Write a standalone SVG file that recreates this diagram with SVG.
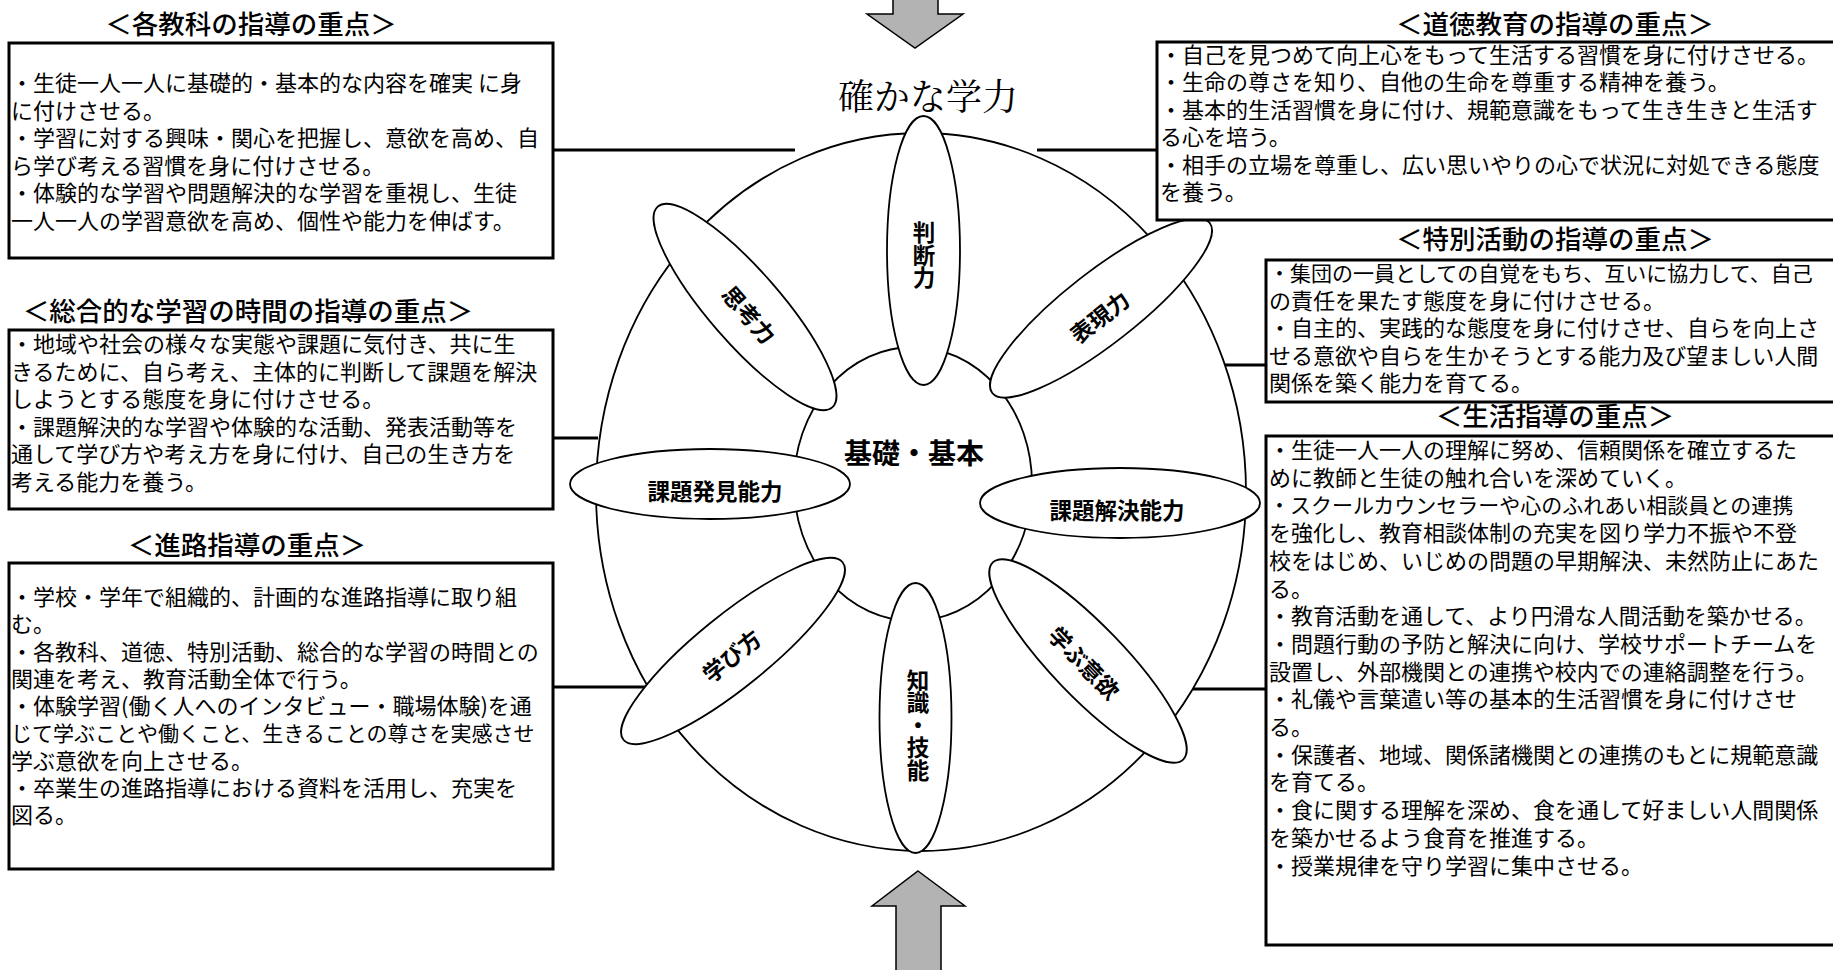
<svg xmlns="http://www.w3.org/2000/svg" width="1833" height="970" viewBox="0 0 1833 970">
<style>
text { font-family: "Noto Sans CJK JP", "Noto Sans CJK SC", sans-serif; fill: #000; }
.t { font-size: 22px; }
.ts { font-size: 21px; }
.ttl { font-size: 26.5px; font-weight: 500; text-anchor: middle; }
.box { fill: #fff; stroke: #000; stroke-width: 3; }
.con { stroke: #000; stroke-width: 3; fill: none; }
.ell { fill: #fff; stroke: #000; stroke-width: 1.8; }
.lbl { font-size: 22.5px; font-weight: bold; text-anchor: middle; dominant-baseline: central; }
.vl { font-size: 22.5px; font-weight: bold; text-anchor: middle; writing-mode: vertical-rl; }
.arr { fill: #b3b3b3; stroke: #000; stroke-width: 1.5; }
</style>
<rect width="1833" height="970" fill="#fff"/>

<g id="connectors">
  <line class="con" x1="553" y1="150" x2="795" y2="150"/>
  <line class="con" x1="553" y1="438" x2="598" y2="438"/>
  <line class="con" x1="553" y1="687" x2="645" y2="687"/>
  <line class="con" x1="1037" y1="150" x2="1158" y2="150"/>
  <line class="con" x1="1225" y1="365" x2="1266" y2="365"/>
  <line class="con" x1="1193" y1="689" x2="1266" y2="689"/>
</g>

<g id="arrow-top">
  <polygon class="arr" points="893,-5 938,-5 938,14 963,14 915,48 867,14 893,14"/>
</g>
<g id="arrow-bottom">
  <polygon class="arr" points="918,871 965,906 941,906 941,975 896,975 896,906 872,906"/>
</g>

<g id="title-main">
  <text x="928" y="110" style="font-family: 'Noto Serif CJK JP', 'Noto Sans CJK JP', serif; font-size: 36px; font-weight: 400;" text-anchor="middle">確かな学力</text>
</g>

<g id="outer-ring">
  <ellipse class="ell" cx="921" cy="492" rx="325" ry="359"/>
</g>
<g id="core">
  <ellipse class="ell" cx="913" cy="484" rx="119" ry="137"/>
  <text class="lbl" x="914" y="452" style="font-size:28px">基礎・基本</text>
</g>

<g id="petal-handan">
  <ellipse class="ell" cx="923.5" cy="250.5" rx="36.5" ry="134.5"/>
  <text class="vl" x="924" y="255">判断力</text>
</g>
<g id="petal-shiko">
  <ellipse class="ell" cx="745" cy="307" rx="36" ry="133" transform="rotate(-41 745 307)"/>
  <text class="lbl" x="750" y="314" transform="rotate(49 750 314)">思考力</text>
</g>
<g id="petal-hyogen">
  <ellipse class="ell" cx="1101" cy="308" rx="36" ry="138" transform="rotate(52 1101 308)"/>
  <text class="lbl" x="1099" y="316" transform="rotate(-38 1099 316)">表現力</text>
</g>
<g id="petal-hakken">
  <ellipse class="ell" cx="710" cy="484" rx="140" ry="35"/>
  <text class="lbl" x="715" y="490">課題発見能力</text>
</g>
<g id="petal-kaiketsu">
  <ellipse class="ell" cx="1120" cy="503" rx="140" ry="35"/>
  <text class="lbl" x="1117" y="509">課題解決能力</text>
</g>
<g id="petal-manabikata">
  <ellipse class="ell" cx="733" cy="651" rx="36" ry="141" transform="rotate(51 733 651)"/>
  <text class="lbl" x="731" y="655" transform="rotate(-39 731 655)">学び方</text>
</g>
<g id="petal-iyoku">
  <ellipse class="ell" cx="1088" cy="661" rx="36" ry="137" transform="rotate(-44 1088 661)"/>
  <text class="lbl" x="1085" y="662" transform="rotate(46 1085 662)">学ぶ意欲</text>
</g>
<g id="petal-chishiki">
  <ellipse class="ell" cx="915.5" cy="718" rx="36" ry="135"/>
  <text class="vl" x="918" y="725">知識・技能</text>
</g>

<g id="box-kakukyouka">
  <text class="ttl" x="251" y="34">＜各教科の指導の重点＞</text>
  <rect class="box" x="9" y="43" width="544" height="215"/>
  <text class="t" x="11" y="91">・生徒一人一人に基礎的・基本的な内容を確実 に身</text>
  <text class="t" x="11" y="118.5">に付けさせる。</text>
  <text class="t" x="11" y="146">・学習に対する興味・関心を把握し、意欲を高め、自</text>
  <text class="t" x="11" y="173.5">ら学び考える習慣を身に付けさせる。</text>
  <text class="t" x="11" y="201">・体験的な学習や問題解決的な学習を重視し、生徒</text>
  <text class="t" x="11" y="228.5">一人一人の学習意欲を高め、個性や能力を伸ばす。</text>
</g>

<g id="box-sougou">
  <text class="ttl" x="248" y="321">＜総合的な学習の時間の指導の重点＞</text>
  <rect class="box" x="9" y="330" width="544" height="179"/>
  <text class="t" x="11" y="352">・地域や社会の様々な実態や課題に気付き、共に生</text>
  <text class="t" x="11" y="379.5">きるために、自ら考え、主体的に判断して課題を解決</text>
  <text class="t" x="11" y="407">しようとする態度を身に付けさせる。</text>
  <text class="t" x="11" y="434.5">・課題解決的な学習や体験的な活動、発表活動等を</text>
  <text class="t" x="11" y="462">通して学び方や考え方を身に付け、自己の生き方を</text>
  <text class="t" x="11" y="489.5">考える能力を養う。</text>
</g>

<g id="box-shinro">
  <text class="ttl" x="247" y="555">＜進路指導の重点＞</text>
  <rect class="box" x="9" y="563" width="544" height="306"/>
  <text class="t" x="11" y="605">・学校・学年で組織的、計画的な進路指導に取り組</text>
  <text class="t" x="11" y="632.25">む。</text>
  <text class="t" x="11" y="659.5">・各教科、道徳、特別活動、総合的な学習の時間との</text>
  <text class="t" x="11" y="686.75">関連を考え、教育活動全体で行う。</text>
  <text class="t" x="11" y="714">・体験学習(働く人へのインタビュー・職場体験)を通</text>
  <text class="ts" x="11" y="741.25">じて学ぶことや働くこと、生きることの尊さを実感させ</text>
  <text class="t" x="11" y="768.5">学ぶ意欲を向上させる。</text>
  <text class="t" x="11" y="795.75">・卒業生の進路指導における資料を活用し、充実を</text>
  <text class="t" x="11" y="823">図る。</text>
</g>

<g id="box-doutoku">
  <text class="ttl" x="1555" y="34">＜道徳教育の指導の重点＞</text>
  <rect class="box" x="1157" y="42" width="690" height="178"/>
  <text class="t" x="1160" y="63">・自己を見つめて向上心をもって生活する習慣を身に付けさせる。</text>
  <text class="t" x="1160" y="90.4">・生命の尊さを知り、自他の生命を尊重する精神を養う。</text>
  <text class="t" x="1160" y="117.8">・基本的生活習慣を身に付け、規範意識をもって生き生きと生活す</text>
  <text class="t" x="1160" y="145.2">る心を培う。</text>
  <text class="t" x="1160" y="172.6">・相手の立場を尊重し、広い思いやりの心で状況に対処できる態度</text>
  <text class="t" x="1160" y="200">を養う。</text>
</g>

<g id="box-tokubetsu">
  <text class="ttl" x="1555" y="249">＜特別活動の指導の重点＞</text>
  <rect class="box" x="1266" y="260" width="580" height="142"/>
  <text class="ts" x="1269" y="281">・集団の一員としての自覚をもち、互いに協力して、自己</text>
  <text class="t" x="1269" y="308.5">の責任を果たす態度を身に付けさせる。</text>
  <text class="t" x="1269" y="336">・自主的、実践的な態度を身に付けさせ、自らを向上さ</text>
  <text class="t" x="1269" y="363.5">せる意欲や自らを生かそうとする能力及び望ましい人間</text>
  <text class="t" x="1269" y="391">関係を築く能力を育てる。</text>
</g>

<g id="box-seikatsu">
  <text class="ttl" x="1555" y="426">＜生活指導の重点＞</text>
  <rect class="box" x="1266" y="436" width="580" height="509"/>
  <text class="t" x="1269" y="458">・生徒一人一人の理解に努め、信頼関係を確立するた</text>
  <text class="t" x="1269" y="485.7">めに教師と生徒の触れ合いを深めていく。</text>
  <text class="ts" x="1269" y="513.4">・スクールカウンセラーや心のふれあい相談員との連携</text>
  <text class="t" x="1269" y="541.1">を強化し、教育相談体制の充実を図り学力不振や不登</text>
  <text class="t" x="1269" y="568.8">校をはじめ、いじめの問題の早期解決、未然防止にあた</text>
  <text class="t" x="1269" y="596.5">る。</text>
  <text class="t" x="1269" y="624.2">・教育活動を通して、より円滑な人間活動を築かせる。</text>
  <text class="t" x="1269" y="651.9">・問題行動の予防と解決に向け、学校サポートチームを</text>
  <text class="t" x="1269" y="679.6">設置し、外部機関との連携や校内での連絡調整を行う。</text>
  <text class="t" x="1269" y="707.3">・礼儀や言葉遣い等の基本的生活習慣を身に付けさせ</text>
  <text class="t" x="1269" y="735">る。</text>
  <text class="t" x="1269" y="762.7">・保護者、地域、関係諸機関との連携のもとに規範意識</text>
  <text class="t" x="1269" y="790.4">を育てる。</text>
  <text class="t" x="1269" y="818.1">・食に関する理解を深め、食を通して好ましい人間関係</text>
  <text class="t" x="1269" y="845.8">を築かせるよう食育を推進する。</text>
  <text class="t" x="1269" y="873.5">・授業規律を守り学習に集中させる。</text>
</g>
</svg>
